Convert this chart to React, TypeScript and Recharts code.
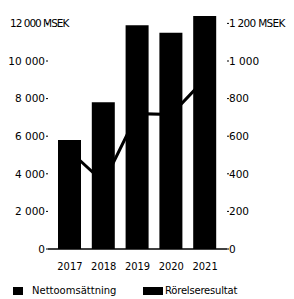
import { Bar, ComposedChart, Legend, Line, XAxis, YAxis } from "recharts"

// Values
const years = ["2017", "2018", "2019", "2020", "2021"]
const nettoomsattning = [5800, 7800, 11900, 11500, 12400]
const rorelseresultat = [520, 355, 720, 715, 905]
const leftTicks = [0, 2000, 4000, 6000, 8000, 10000, 12000]
const rightTicks = [0, 200, 400, 600, 800, 1000, 1200]

const data = years.map((year, i) => ({
  year,
  netto: nettoomsattning[i],
  resultat: rorelseresultat[i],
}))

const axisFont = "'DejaVu Sans', sans-serif"
const yearFont = "'Liberation Sans Narrow', 'DejaVu Sans Condensed', sans-serif"

const fmt = (v: number) => String(v).replace(/\B(?=(\d{3})+(?!\d))/g, " ")

function LeftTick(props: any) {
  const { x, y, payload } = props
  if (payload.value === 12000) {
    return (
      <text x={2} y={y} dy="0.355em" textAnchor="start" fontFamily={axisFont} fontSize={10.5} fill="#000" letterSpacing={-1}>
        12 000 MSEK
      </text>
    )
  }
  return (
    <text x={x} y={y} dy="0.355em" textAnchor="end" fontFamily={axisFont} fontSize={10.5} fill="#000">
      {fmt(payload.value)}
    </text>
  )
}

function RightTick(props: any) {
  const { x, y, payload } = props
  const top = payload.value === 1200
  return (
    <text
      x={x}
      y={y}
      dy="0.355em"
      textAnchor="start"
      fontFamily={axisFont}
      fontSize={10.5}
      fill="#000"
      letterSpacing={top ? -0.7 : 0}
    >
      {top ? "1 200 MSEK" : fmt(payload.value)}
    </text>
  )
}

function LegendBox() {
  const text = { position: "absolute" as const, top: 0, lineHeight: "16px", whiteSpace: "nowrap" as const }
  return (
    <div style={{ position: "relative", height: 16, fontFamily: axisFont, fontSize: 10, color: "#000" }}>
      <span style={{ position: "absolute", left: 5, top: 4, width: 10, height: 8, background: "#000" }} />
      <span style={{ ...text, left: 24 }}>Nettoomsättning</span>
      <span style={{ position: "absolute", left: 135, top: 4, width: 20, height: 8, background: "#000" }} />
      <span style={{ ...text, left: 157, letterSpacing: -0.2 }}>Rörelseresultat</span>
    </div>
  )
}

export default function App() {
  return (
    <ComposedChart
      width={286}
      height={291}
      data={data}
      margin={{ top: 6, right: 0, bottom: 0, left: 0 }}
      style={{ overflow: "visible" }}
    >
      <XAxis
        dataKey="year"
        height={34}
        padding={{ left: 5, right: 5 }}
        tickLine={false}
        tickMargin={7}
        axisLine={{ stroke: "#000", strokeWidth: 1.5 }}
        tick={{ fontFamily: yearFont, fontSize: 11, fill: "#000" }}
      />
      <YAxis
        yAxisId="left"
        width={40}
        domain={[0, 12500]}
        ticks={leftTicks}
        axisLine={false}
        tickSize={2}
        tickMargin={1}
        tickLine={{ stroke: "#000" }}
        tick={<LeftTick />}
      />
      <YAxis
        yAxisId="right"
        orientation="right"
        width={67}
        domain={[0, 1250]}
        ticks={rightTicks}
        axisLine={false}
        tickSize={2}
        tickMargin={0}
        tickLine={{ stroke: "#000" }}
        tick={<RightTick />}
      />
      <Legend verticalAlign="bottom" wrapperStyle={{ left: 0, width: 286, height: 16 }} content={() => <LegendBox />} />
      <Bar yAxisId="left" dataKey="netto" name="Nettoomsättning" fill="#000" barSize={23} isAnimationActive={false} />
      <Line
        yAxisId="right"
        dataKey="resultat"
        name="Rörelseresultat"
        stroke="#000"
        strokeWidth={3}
        dot={false}
        type="linear"
        isAnimationActive={false}
      />
    </ComposedChart>
  )
}
